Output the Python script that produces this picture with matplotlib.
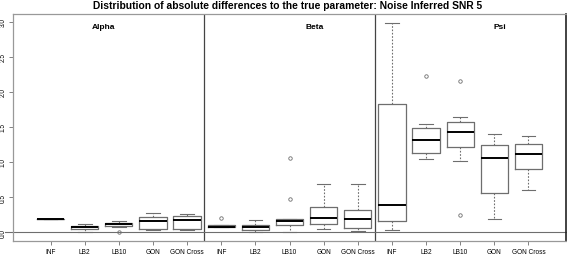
import matplotlib
matplotlib.use('Agg')
import matplotlib.pyplot as plt

plt.rcParams['font.family'] = ['Liberation Sans', 'DejaVu Sans']

methods = ['INF', 'LB2', 'LB10', 'GON', 'GON Cross']
params = ['Alpha', 'Beta', 'Psi']

# five number summaries: low whisker, q1, median, q3, high whisker
alpha_lo  = [0.185, 0.010, 0.080, 0.030, 0.030]
alpha_q1  = [0.185, 0.040, 0.085, 0.040, 0.040]
alpha_med = [0.190, 0.068, 0.110, 0.155, 0.172]
alpha_q3  = [0.195, 0.095, 0.128, 0.222, 0.235]
alpha_hi  = [0.195, 0.110, 0.165, 0.270, 0.265]
alpha_out = [[], [], [0.01], [], []]

beta_lo  = [0.068, 0.005, 0.005, 0.047, 0.020]
beta_q1  = [0.070, 0.037, 0.100, 0.123, 0.057]
beta_med = [0.076, 0.075, 0.160, 0.200, 0.190]
beta_q3  = [0.100, 0.100, 0.185, 0.355, 0.320]
beta_hi  = [0.100, 0.170, 0.190, 0.680, 0.690]
beta_out = [[0.20], [], [0.47, 1.05], [], []]

psi_lo  = [0.030, 1.040, 1.010, 0.190, 0.600]
psi_q1  = [0.165, 1.130, 1.220, 0.555, 0.905]
psi_med = [0.390, 1.320, 1.425, 1.057, 1.110]
psi_q3  = [1.825, 1.490, 1.565, 1.240, 1.260]
psi_hi  = [2.980, 1.540, 1.635, 1.400, 1.375]
psi_out = [[], [2.22], [2.16, 0.24], [], []]

y_ticks = [0.0, 0.5, 1.0, 1.5, 2.0, 2.5, 3.0]

groups = [
    (alpha_lo, alpha_q1, alpha_med, alpha_q3, alpha_hi, alpha_out),
    (beta_lo, beta_q1, beta_med, beta_q3, beta_hi, beta_out),
    (psi_lo, psi_q1, psi_med, psi_q3, psi_hi, psi_out),
]

stats = []
for lo, q1, med, q3, hi, out in groups:
    for i in range(len(methods)):
        stats.append({'whislo': lo[i], 'q1': q1[i], 'med': med[i],
                      'q3': q3[i], 'whishi': hi[i], 'fliers': out[i]})

positions = list(range(1, len(stats) + 1))

fig = plt.figure(figsize=(5.67, 2.55), dpi=100)
ax = fig.add_axes([0.0235, 0.051, 0.9742, 0.891])

gray = '#6e6e6e'
ax.bxp(stats, positions=positions, widths=0.8, showfliers=True,
       boxprops=dict(color=gray, linewidth=0.9),
       medianprops=dict(color='black', linewidth=1.4),
       whiskerprops=dict(color=gray, linewidth=0.8, linestyle=(0, (1.5, 1.5))),
       capprops=dict(color=gray, linewidth=0.8),
       flierprops=dict(marker='o', markersize=2.5, markerfacecolor='none',
                       markeredgecolor=gray, markeredgewidth=0.6))

ax.set_xlim(-0.09, 16.09)
ax.set_ylim(-0.125, 3.11)

# group separators and zero line
for sep in [5.5, 10.5]:
    ax.axvline(sep, color='#444444', linewidth=0.9)
ax.plot([-0.33, 16.09], [0, 0], color=gray, linewidth=0.8, clip_on=False)

label_x = [2.55, 8.73, 14.16]
for name, lx in zip(params, label_x):
    ax.text(lx, 2.93, name, ha='center', va='center', fontsize=6,
            fontweight='bold')

ax.set_xticks(positions)
ax.set_xticklabels(methods * 3, fontsize=4.7)
ax.set_yticks(y_ticks)
ax.set_yticklabels(['%.1f' % t for t in y_ticks], fontsize=4.7, rotation=90,
                   va='center')
ax.tick_params(axis='both', length=3, width=0.6, color=gray, pad=2)

for side in ['left', 'top', 'bottom']:
    ax.spines[side].set_color('#999999')
    ax.spines[side].set_linewidth(0.9)
ax.spines['right'].set_color('#222222')
ax.spines['right'].set_linewidth(1.2)

fig.text(0.507, 0.975, 'Distribution of absolute differences to the true parameter: Noise Inferred SNR 5',
         ha='center', va='center', fontsize=7.4, fontweight='bold')

fig.savefig('out.png', dpi=100)
